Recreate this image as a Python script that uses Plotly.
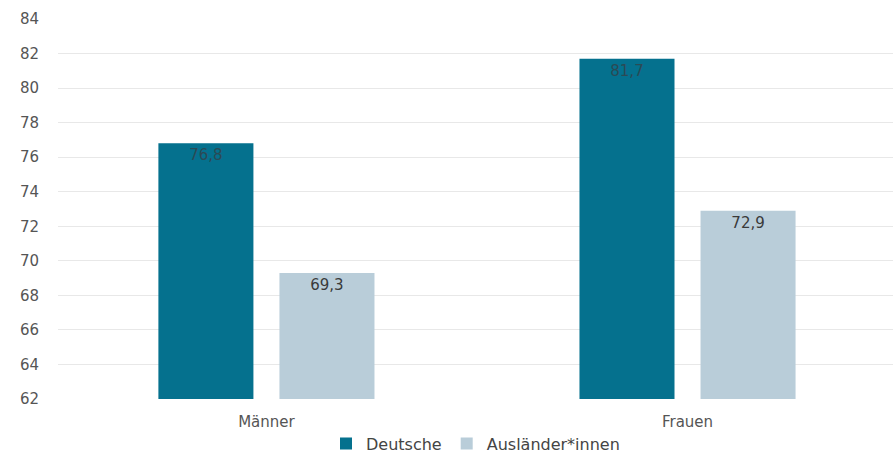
import plotly.graph_objects as go

categories = ["Männer", "Frauen"]
deutsche = [76.8, 81.7]
auslaender = [69.3, 72.9]
series_names = ["Deutsche", "Ausländer*innen"]
tick_vals = list(range(62, 85, 2))

FONT = "DejaVu Sans"

fig = go.Figure()
fig.add_trace(go.Bar(
    x=categories, y=deutsche, name=series_names[0],
    marker=dict(color="#05718e", line=dict(width=0)),
    text=[f"{v:.1f}".replace(".", ",") for v in deutsche],
    textposition="inside", insidetextanchor="end",
    textfont=dict(color="#2b4a55", size=15, family=FONT),
))
fig.add_trace(go.Bar(
    x=categories, y=auslaender, name=series_names[1],
    marker=dict(color="#b9cdd9", line=dict(width=0)),
    text=[f"{v:.1f}".replace(".", ",") for v in auslaender],
    textposition="inside", insidetextanchor="end",
    textfont=dict(color="#3a3a3a", size=15, family=FONT),
))

fig.update_layout(
    width=893, height=455,
    margin=dict(l=58, r=0, t=19, b=56, autoexpand=False),
    barmode="group", bargap=0.425, bargroupgap=0.215,
    plot_bgcolor="white", paper_bgcolor="white",
    font=dict(family=FONT, size=15, color="#555555"),
    separators=",.",
    legend=dict(orientation="h", x=0.5, xanchor="center", yref="container", y=0.025, yanchor="middle",
                font=dict(size=16, color="#444444"), itemwidth=30, traceorder="normal"),
    uniformtext=dict(mode="show", minsize=8),
)
fig.update_yaxes(range=[62, 84], tickvals=tick_vals, showgrid=True, gridcolor="#e8e8e8",
                 zeroline=False, showline=False, ticklabelstandoff=18,
                 tickfont=dict(size=15, color="#555555", family=FONT))
fig.update_xaxes(range=[-0.495, 1.488], showline=False, ticklabelstandoff=12,
                 tickfont=dict(size=15, color="#555555", family=FONT))

fig.write_html("out.html")
